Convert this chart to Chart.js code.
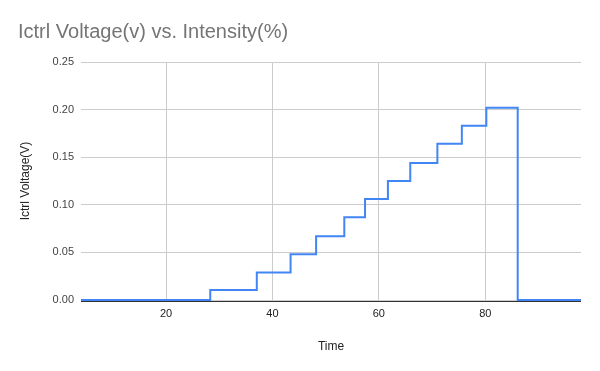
<!DOCTYPE html>
<html>
<head>
<meta charset="utf-8">
<script src="https://cdn.jsdelivr.net/npm/chart.js@4/dist/chart.umd.min.js"></script>
<style>
html,body{margin:0;padding:0;background:#fff;}
#wrap{width:600px;height:371px;}
</style>
</head>
<body>
<div id="wrap"><canvas id="c" width="600" height="371"></canvas></div>
<script>
// Step change times and the new voltage level at each time
const times = [4, 28.3, 37.05, 43.4, 48.2, 53.5, 57.4, 61.7, 65.9, 71.0, 75.6, 80.2, 86.1, 98];
const voltages = [0, 0.0105, 0.029, 0.048, 0.067, 0.087, 0.106, 0.125, 0.144, 0.164, 0.183, 0.202, 0, 0];
const xTicks = [20, 40, 60, 80];
const yTicks = [0, 0.05, 0.10, 0.15, 0.20, 0.25];

const points = times.map((t, i) => ({x: t, y: voltages[i]}));
const FONT = '"Liberation Sans", Arial, sans-serif';

const baseline = {
  id: 'baseline',
  afterDatasetsDraw(chart) {
    const {ctx, chartArea} = chart;
    const y = Math.round(chart.scales.y.getPixelForValue(0)) + 1.5;
    ctx.save();
    ctx.strokeStyle = '#333333';
    ctx.lineWidth = 1;
    ctx.beginPath();
    ctx.moveTo(chartArea.left, y);
    ctx.lineTo(chartArea.right, y);
    ctx.stroke();
    ctx.restore();
  }
};

new Chart(document.getElementById('c'), {
  type: 'line',
  data: {
    datasets: [{
      data: points,
      stepped: true,
      borderColor: '#4285F4',
      borderWidth: 2,
      pointRadius: 0,
      fill: false,
      clip: false
    }]
  },
  plugins: [baseline],
  options: {
    responsive: false,
    animation: false,
    layout: {padding: {left: 18, right: 19, top: 0, bottom: 13}},
    plugins: {
      legend: {display: false},
      tooltip: {enabled: false},
      title: {
        display: true,
        text: 'Ictrl Voltage(v) vs. Intensity(%)',
        align: 'start',
        color: '#757575',
        font: {family: FONT, size: 20, weight: 'normal'},
        padding: {top: 20, bottom: 18}
      }
    },
    scales: {
      x: {
        type: 'linear',
        min: 4,
        max: 98,
        afterBuildTicks: s => { s.ticks = xTicks.map(v => ({value: v})); },
        afterFit: s => { s.height = 58; },
        grid: {color: '#cccccc', drawTicks: false},
        border: {display: false},
        ticks: {color: '#222222', font: {family: FONT, size: 11}, padding: 7, maxRotation: 0},
        title: {display: true, text: 'Time', color: '#222222', font: {family: FONT, size: 12}, padding: {top: 4, bottom: 4}}
      },
      y: {
        min: 0,
        max: 0.25,
        afterBuildTicks: s => { s.ticks = yTicks.map(v => ({value: v})); },
        afterFit: s => { s.width = 63; },
        grid: {color: '#cccccc', drawTicks: false},
        border: {display: false},
        ticks: {
          color: '#444444',
          font: {family: FONT, size: 11},
          padding: 7,
          callback: v => Number(v).toFixed(2)
        },
        title: {display: true, text: 'Ictrl Voltage(V)', color: '#222222', font: {family: FONT, size: 12}, padding: {top: 0, bottom: 0}}
      }
    }
  }
});
</script>
</body>
</html>
